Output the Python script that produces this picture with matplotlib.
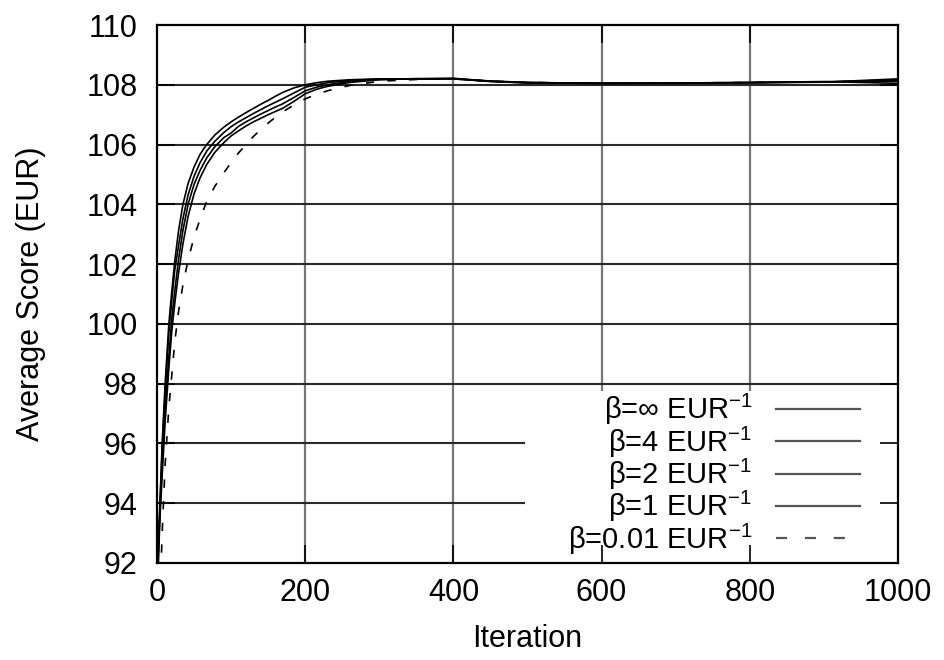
import matplotlib
matplotlib.use('Agg')
import matplotlib.pyplot as plt
from matplotlib.patches import Rectangle

plt.rcParams.update({'font.family': ['Liberation Sans', 'DejaVu Sans'],
                     'mathtext.default': 'regular',
                     'font.size': 22})

# average score per iteration for each learning rate beta
iterations = [0, 2, 4, 7, 11, 16, 20, 24, 29, 35, 42, 50, 58, 67, 78, 90, 100, 110,
              120, 130, 140, 150, 160, 170, 185, 200, 215, 230, 260, 300, 350, 400,
              450, 500, 600, 700, 800, 900, 1000]

score_inf = [90.0, 92.8, 94.0, 96.0, 98.0, 100.0, 101.1, 102.1, 103.1, 104.0, 104.7, 105.25,
             105.67, 106.0, 106.32, 106.58, 106.76, 106.92, 107.07, 107.21, 107.35, 107.48,
             107.62, 107.75, 107.9, 108.0, 108.07, 108.12, 108.17, 108.2, 108.2, 108.21,
             108.12, 108.08, 108.05, 108.06, 108.08, 108.1, 108.16]
score_4 = [89.8, 92.6, 93.9, 95.8, 97.7, 99.7, 100.8, 101.8, 102.6, 103.52, 104.32, 104.94,
           105.39, 105.78, 106.11, 106.4, 106.6, 106.76, 106.9, 107.04, 107.17, 107.3,
           107.42, 107.54, 107.73, 107.92, 108.0, 108.07, 108.15, 108.19, 108.19, 108.2,
           108.11, 108.07, 108.06, 108.05, 108.07, 108.09, 108.2]
score_2 = [89.6, 92.4, 93.7, 95.3, 97.1, 98.9, 100.2, 101.1, 102.14, 103.13, 104.0, 104.67,
           105.13, 105.55, 105.93, 106.23, 106.39, 106.61, 106.76, 106.89, 107.02, 107.14,
           107.26, 107.37, 107.58, 107.8, 107.92, 108.0, 108.12, 108.18, 108.2, 108.22,
           108.12, 108.06, 108.05, 108.06, 108.08, 108.11, 108.05]
score_1 = [89.5, 92.2, 93.5, 94.93, 96.73, 98.52, 99.76, 100.69, 101.68, 102.68, 103.6, 104.35,
           104.88, 105.33, 105.74, 106.06, 106.29, 106.46, 106.62, 106.76, 106.88, 107.0,
           107.11, 107.22, 107.45, 107.7, 107.85, 107.95, 108.08, 108.17, 108.21, 108.2,
           108.13, 108.08, 108.04, 108.05, 108.07, 108.1, 108.12]
score_001 = [85.0, 88.5, 90.8, 93.0, 95.3, 97.2, 98.3, 99.4, 100.4, 101.3, 102.15, 102.9,
             103.5, 104.1, 104.6, 105.05, 105.4, 105.72, 106.0, 106.27, 106.5, 106.72,
             106.92, 107.1, 107.33, 107.53, 107.68, 107.8, 107.98, 108.12, 108.18, 108.2,
             108.12, 108.08, 108.05, 108.06, 108.08, 108.1, 108.14]

labels = [r'β=∞ EUR$^{-1}$', r'β=4 EUR$^{-1}$', r'β=2 EUR$^{-1}$',
          r'β=1 EUR$^{-1}$', r'β=0.01 EUR$^{-1}$']
series = [score_inf, score_4, score_2, score_1, score_001]
styles = ['-', '-', '-', '-', (0, (5, 8))]

fig, ax = plt.subplots(figsize=(9.44, 6.6), dpi=100)
fig.subplots_adjust(left=0.1663, right=0.9513, top=0.962, bottom=0.147)

ax.set_xlim(0, 1000)
ax.set_ylim(92, 110)
ax.set_xticks(range(0, 1001, 200))
ax.set_yticks(range(92, 111, 2))

# grid drawn by hand so the key box can hide it while the ticks stay on top
for x in ax.get_xticks()[1:-1]:
    ax.axvline(x, color='#777777', lw=1.6, zorder=0.3)
for y in ax.get_yticks()[1:-1]:
    ax.axhline(y, color='#2a2a2a', lw=1.5, zorder=0.3)

# white box behind the key
ax.add_patch(Rectangle((0.497, 0), 0.503, 0.32, transform=ax.transAxes,
                       facecolor='white', edgecolor='none', zorder=1))

for vals, lab, ls in zip(series, labels, styles):
    ax.plot(iterations, vals, color='black', lw=1.2, ls=ls, label=lab, zorder=2)

ax.tick_params(direction='in', length=13, width=1.2, top=True, right=True,
               labelsize=22, color='black')
ax.tick_params(axis='y', pad=14)
ax.tick_params(axis='x', pad=11)
for sp in ax.spines.values():
    sp.set_linewidth(1.6)

ax.set_xlabel('Iteration', fontsize=22, labelpad=11)
ax.set_ylabel('Average Score (EUR)', fontsize=22, labelpad=29)

leg = ax.legend(loc='lower right', bbox_to_anchor=(0.949, 0.012), frameon=False,
                markerfirst=False, fontsize=21, handlelength=2.9, handletextpad=0.8,
                labelspacing=-0.1, borderpad=0.0, borderaxespad=0.0)
for h in leg.get_lines():
    h.set_color('#555555')
    h.set_linewidth(1.6)

fig.savefig('out.png', dpi=100)
